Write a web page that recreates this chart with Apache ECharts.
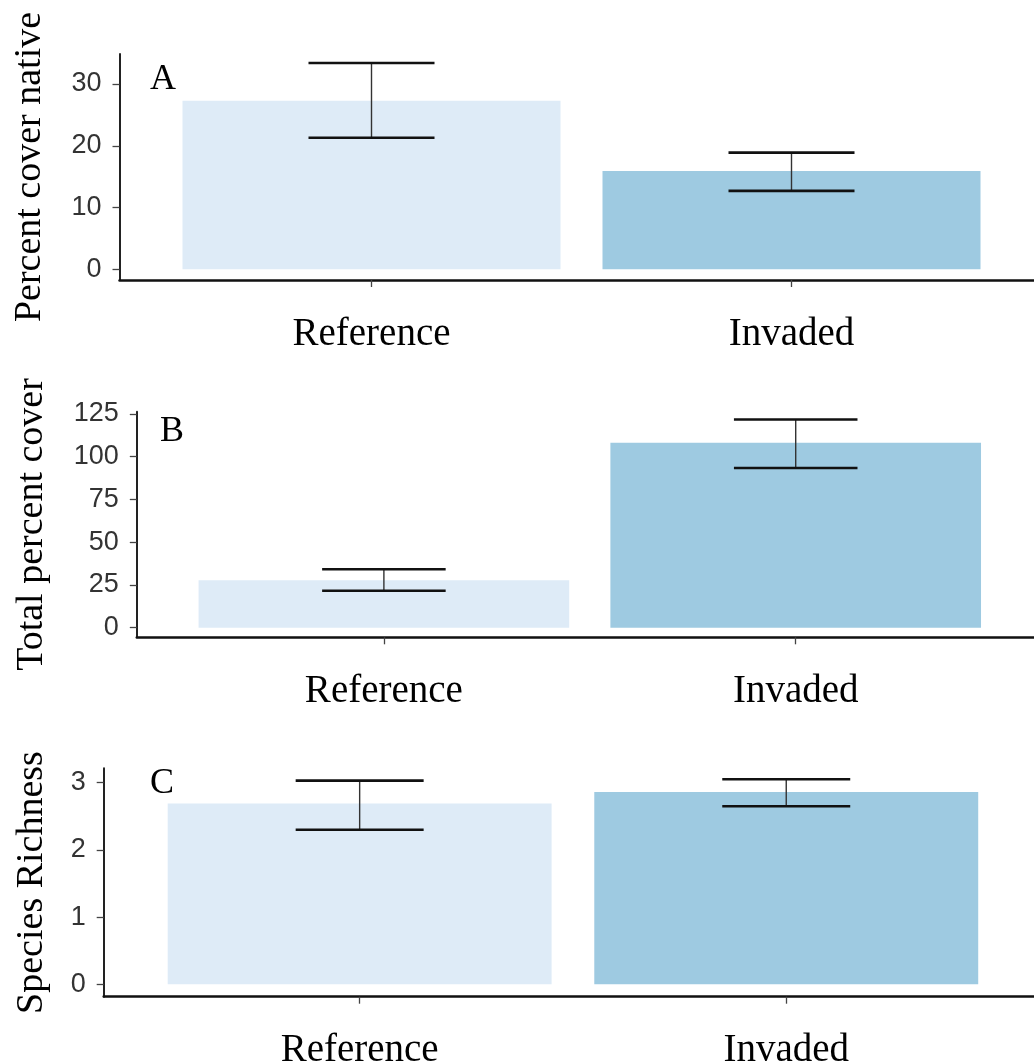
<!DOCTYPE html>
<html>
<head>
<meta charset="utf-8">
<script src="https://cdn.jsdelivr.net/npm/echarts@6/dist/echarts.min.js"></script>
<style>
  html, body { margin: 0; padding: 0; background: #fff; }
  #chart { width: 1034px; height: 1061px; }
</style>
</head>
<body>
<div id="chart"></div>
<script>
// Site categories shared by all three panels
const categories = ['Reference', 'Invaded'];
const barColors = ['#DEEBF7', '#9ECAE1'];

// A: percent cover of native species (mean, lower and upper error bounds)
const nativeMean = [27.3, 15.9];
const nativeLow  = [21.3, 12.7];
const nativeHigh = [33.4, 18.9];
const nativeTicks = [0, 10, 20, 30];

// B: total percent cover
const totalMean = [27.7, 108.2];
const totalLow  = [21.6, 93.4];
const totalHigh = [34.2, 121.7];
const totalTicks = [0, 25, 50, 75, 100, 125];

// C: species richness
const richMean = [2.69, 2.86];
const richLow  = [2.30, 2.65];
const richHigh = [3.03, 3.05];
const richTicks = [0, 1, 2, 3];

// Panel layout (grid box in px, value-axis range incl. padding)
const panels = [
  { letter: 'A', title: 'Percent cover native', mean: nativeMean, low: nativeLow, high: nativeHigh, ticks: nativeTicks,
    grid: { left: 119.5, top: 54, width: 924, height: 226 }, yMin: -1.73, yMax: 34.86, nameGap: 70,
    letterPos: [150, 79.5] },
  { letter: 'B', title: 'Total percent cover', mean: totalMean, low: totalLow, high: totalHigh, ticks: totalTicks,
    grid: { left: 136.8, top: 411.7, width: 906, height: 225.6 }, yMin: -5.62, yMax: 126.3, nameGap: 86,
    letterPos: [160, 431.2] },
  { letter: 'C', title: 'Species Richness', mean: richMean, low: richLow, high: richHigh, ticks: richTicks,
    grid: { left: 103.7, top: 768.3, width: 938.5, height: 228.4 }, yMin: -0.185, yMax: 3.214, nameGap: 53,
    letterPos: [150, 783.6] }
];

const positions = categories.map((c, i) => i + 1);
const serif = '"Liberation Serif", "Times New Roman", serif';
const sans = '"Liberation Sans", Arial, sans-serif';

const grids = [], xAxes = [], yAxes = [], series = [], graphics = [];

panels.forEach((p, k) => {
  grids.push(Object.assign({ outerBoundsMode: 'none', containLabel: false }, p.grid));

  xAxes.push({
    gridIndex: k, type: 'value', min: 0.4, max: 2.6,
    splitLine: { show: false },
    axisLine: { show: true, onZero: false, lineStyle: { color: '#111', width: 2.5 } },
    axisTick: { show: true, customValues: positions, length: 7, lineStyle: { color: '#444', width: 1.3 } },
    axisLabel: {
      customValues: positions, margin: 35,
      formatter: v => categories[Math.round(v) - 1],
      fontFamily: serif, fontSize: 39, color: '#000'
    }
  });

  yAxes.push({
    gridIndex: k, type: 'value', min: p.yMin, max: p.yMax,
    name: p.title, nameLocation: 'middle', nameRotate: 90, nameGap: p.nameGap,
    nameTextStyle: { fontFamily: serif, fontSize: 38, color: '#000' },
    splitLine: { show: false },
    axisLine: { show: true, onZero: false, lineStyle: { color: '#222', width: 2 } },
    axisTick: { show: true, customValues: p.ticks, length: 7, lineStyle: { color: '#444', width: 1.3 } },
    axisLabel: { customValues: p.ticks, margin: 18, fontFamily: sans, fontSize: 27, color: '#333' }
  });

  series.push({
    type: 'bar', xAxisIndex: k, yAxisIndex: k, barWidth: '90%',
    data: p.mean.map((m, i) => ({ value: [positions[i], m], itemStyle: { color: barColors[i] } })),
    silent: true
  });

  series.push({
    type: 'custom', xAxisIndex: k, yAxisIndex: k, silent: true, z: 5,
    data: positions.map((x, i) => [x, p.low[i], p.high[i]]),
    renderItem: (params, api) => {
      const x = api.value(0), lo = api.value(1), hi = api.value(2);
      const half = 0.15;
      const top = api.coord([x, hi]), bot = api.coord([x, lo]);
      const tl = api.coord([x - half, hi]), tr = api.coord([x + half, hi]);
      const bl = api.coord([x - half, lo]), br = api.coord([x + half, lo]);
      const cap = { stroke: '#111', lineWidth: 2.6 };
      return {
        type: 'group',
        children: [
          { type: 'line', shape: { x1: top[0], y1: top[1], x2: bot[0], y2: bot[1] }, style: { stroke: '#333', lineWidth: 1.4 } },
          { type: 'line', shape: { x1: tl[0], y1: tl[1], x2: tr[0], y2: tr[1] }, style: cap },
          { type: 'line', shape: { x1: bl[0], y1: bl[1], x2: br[0], y2: br[1] }, style: cap }
        ]
      };
    }
  });

  graphics.push({
    type: 'text', left: p.letterPos[0], top: p.letterPos[1] - 18,
    style: { text: p.letter, font: '36px ' + serif, fill: '#000' }
  });
});

const chart = echarts.init(document.getElementById('chart'), null, { renderer: 'canvas' });
chart.setOption({
  animation: false,
  backgroundColor: '#fff',
  grid: grids,
  xAxis: xAxes,
  yAxis: yAxes,
  series: series,
  graphic: graphics
});
</script>
</body>
</html>
